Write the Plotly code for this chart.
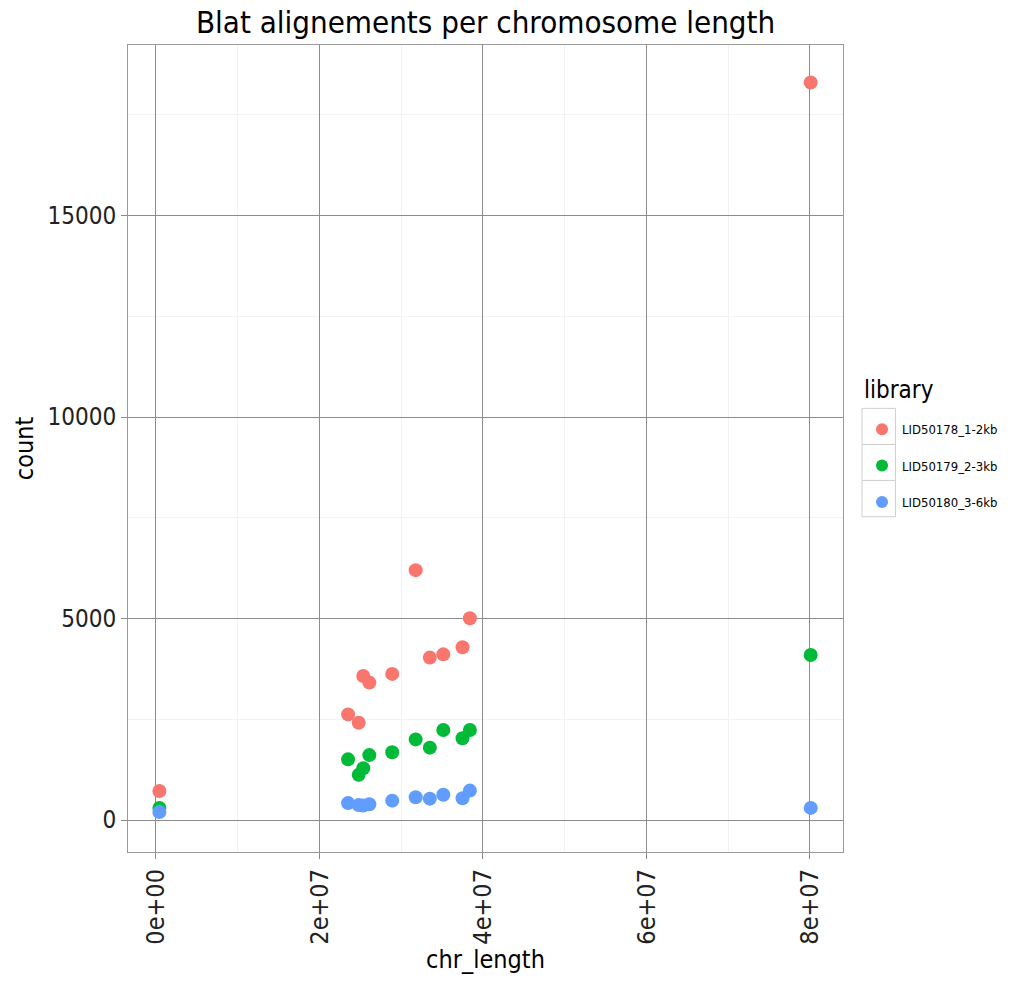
import plotly.graph_objects as go

# Chromosome lengths (bp) and Blat alignment counts per library
chr_length = [420000, 23500000, 24800000, 25360000, 26100000, 28900000,
              31770000, 33500000, 35150000, 37500000, 38400000, 80090000]

libraries = ["LID50178_1-2kb", "LID50179_2-3kb", "LID50180_3-6kb"]
count_1_2kb = [720, 2620, 2415, 3575, 3410, 3625, 6200, 4030, 4110, 4285, 5005, 18300]
count_2_3kb = [300, 1505, 1120, 1285, 1610, 1680, 2000, 1795, 2235, 2030, 2235, 4095]
count_3_6kb = [200, 420, 370, 360, 390, 480, 565, 530, 625, 540, 730, 300]

colors = ["#F8766D", "#00BA38", "#619CFF"]

x_ticks = [0, 20000000, 40000000, 60000000, 80000000]
x_ticktext = ["0e+00", "2e+07", "4e+07", "6e+07", "8e+07"]
y_ticks = [0, 5000, 10000, 15000]
y_ticktext = ["0", "5000", "10000", "15000"]

FONT = "Liberation Sans Narrow, DejaVu Sans Condensed, Liberation Sans, sans-serif"

fig = go.Figure()
for name, vals, col in zip(libraries, [count_1_2kb, count_2_3kb, count_3_6kb], colors):
    fig.add_trace(go.Scatter(
        x=chr_length, y=vals, mode="markers", name=name, legendgroup=name,
        marker=dict(color=col, size=14, line=dict(width=0)),
    ))

grid_major = "#8c8c8c"
grid_minor = "#f2f2f2"

# Legend key boxes (paper coordinates)
key_x0, key_x1 = 1.0266, 1.0734
key_edges = [0.5497, 0.5050, 0.4604, 0.4155]
for top, bottom in zip(key_edges[:-1], key_edges[1:]):
    fig.add_shape(type="rect", xref="paper", yref="paper",
                  x0=key_x0, x1=key_x1, y0=bottom, y1=top,
                  line=dict(color="#d0d0d0", width=1), fillcolor="rgba(0,0,0,0)",
                  layer="below")

fig.add_annotation(text="library", xref="paper", yref="paper",
                   x=1.0266, y=0.5725, xanchor="left", yanchor="middle",
                   showarrow=False, font=dict(size=24, family=FONT, color="black"))

fig.update_layout(
    width=1019, height=984,
    margin=dict(l=128, r=176, t=45, b=132),
    paper_bgcolor="white", plot_bgcolor="white",
    font=dict(family=FONT, color="black"),
    title=dict(text="Blat alignements per chromosome length", x=0.4765, xanchor="center",
               y=0.977, yanchor="middle", font=dict(size=31, family=FONT)),
    xaxis=dict(
        range=[-3420000, 84040000], tickvals=x_ticks, ticktext=x_ticktext,
        tickangle=-90, tickfont=dict(size=25, color="#222"),
        ticks="outside", ticklen=6, tickcolor="#888", tickwidth=1,
        showgrid=True, gridcolor=grid_major, gridwidth=1,
        minor=dict(tickvals=[10000000, 30000000, 50000000, 70000000], showgrid=True,
                   gridcolor=grid_minor, gridwidth=1, ticks=""),
        zeroline=False, showline=True, linecolor="#999", linewidth=1, mirror=True,
        title=dict(text="chr_length", font=dict(size=25), standoff=6),
    ),
    yaxis=dict(
        range=[-794, 19231], tickvals=y_ticks, ticktext=y_ticktext,
        tickfont=dict(size=24, color="#222"),
        ticks="outside", ticklen=6, tickcolor="#888", tickwidth=1,
        showgrid=True, gridcolor=grid_major, gridwidth=1,
        minor=dict(tickvals=[2500, 7500, 12500, 17500], showgrid=True,
                   gridcolor=grid_minor, gridwidth=1, ticks=""),
        zeroline=False, showline=True, linecolor="#999", linewidth=1, mirror=True,
        title=dict(text="count", font=dict(size=25), standoff=6),
    ),
    legend=dict(
        x=1.0266, xanchor="left", y=0.5425, yanchor="top",
        font=dict(size=13), tracegroupgap=16.5,
        itemsizing="constant", bgcolor="rgba(0,0,0,0)",
    ),
)

fig.write_html("out.html")
